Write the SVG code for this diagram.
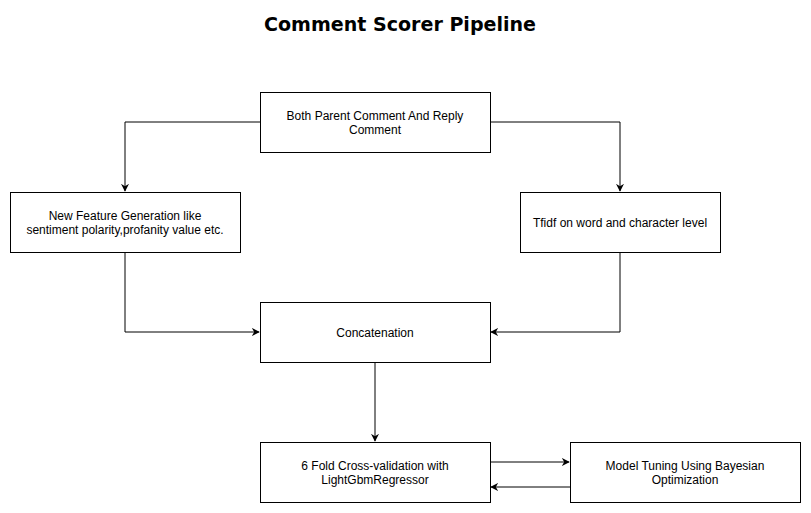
<svg xmlns="http://www.w3.org/2000/svg" width="811" height="513" viewBox="0 0 811 513">
<style>
.box{fill:#fff;stroke:#000;stroke-width:1}
.t{font-family:"Liberation Sans",Arial,sans-serif;font-size:12px;fill:#000;text-anchor:middle}
.title{font-family:"Comic Sans MS","DejaVu Sans",sans-serif;font-size:20px;font-weight:bold;fill:#000;text-anchor:middle}
.c{fill:none;stroke:#000;stroke-width:1}
</style>
<defs>
<marker id="a" viewBox="0 0 10 10" refX="9" refY="5" markerWidth="8" markerHeight="8" markerUnits="userSpaceOnUse" orient="auto">
<path d="M0,0 L10,5 L0,10 L3,5 Z" fill="#000"/>
</marker>
</defs>
<rect width="811" height="513" fill="#fff"/>
<text class="title" x="400" y="31" textLength="272" lengthAdjust="spacingAndGlyphs">Comment Scorer Pipeline</text>
<g id="connectors">
<path class="c" d="M260,122 H125 V191" marker-end="url(#a)"/>
<path class="c" d="M490,122 H620 V191" marker-end="url(#a)"/>
<path class="c" d="M125,252 V332 H259" marker-end="url(#a)"/>
<path class="c" d="M620,252 V332 H491" marker-end="url(#a)"/>
<path class="c" d="M375,362 V441" marker-end="url(#a)"/>
<path class="c" d="M490,462 H569" marker-end="url(#a)"/>
<path class="c" d="M570,487 H491" marker-end="url(#a)"/>
</g>
<g id="n1"><rect class="box" x="260.5" y="92.5" width="230" height="60"/><text class="t" x="375" y="120">Both Parent Comment And Reply</text><text class="t" x="375" y="134">Comment</text></g>
<g id="n2"><rect class="box" x="10.5" y="192.5" width="230" height="60"/><text class="t" x="125" y="220">New Feature Generation like</text><text class="t" x="125" y="234">sentiment polarity,profanity value etc.</text></g>
<g id="n3"><rect class="box" x="520.5" y="192.5" width="200" height="60"/><text class="t" x="620" y="227">Tfidf on word and character level</text></g>
<g id="n4"><rect class="box" x="260.5" y="302.5" width="230" height="60"/><text class="t" x="375" y="337">Concatenation</text></g>
<g id="n5"><rect class="box" x="260.5" y="442.5" width="230" height="60"/><text class="t" x="375" y="470">6 Fold Cross-validation with</text><text class="t" x="375" y="484">LightGbmRegressor</text></g>
<g id="n6"><rect class="box" x="570.5" y="442.5" width="230" height="60"/><text class="t" x="685" y="470">Model Tuning Using Bayesian</text><text class="t" x="685" y="484">Optimization</text></g>
</svg>
